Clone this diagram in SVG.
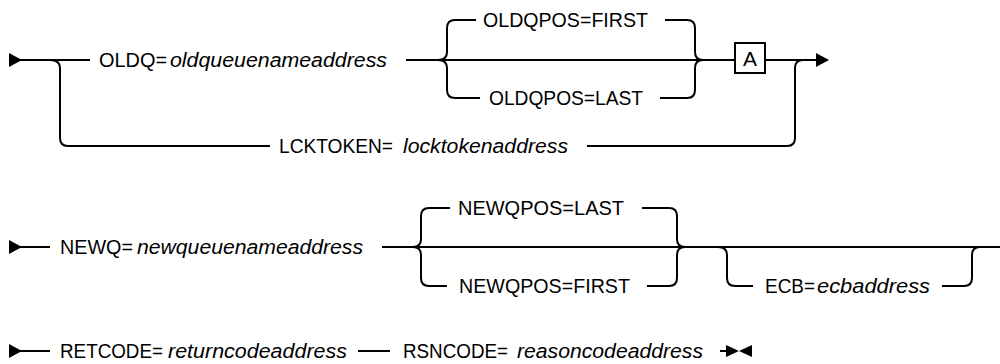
<svg xmlns="http://www.w3.org/2000/svg" width="1000" height="364" viewBox="0 0 1000 364">
<style>
.ln{fill:none;stroke:#000;stroke-width:2;stroke-linejoin:round}
.t{font-family:"Liberation Sans",Arial,sans-serif;font-size:20px;fill:#000}
.i{font-style:italic}
.ah{fill:#000}
.box{fill:#fff;stroke:#000;stroke-width:2}
</style>
<rect width="1000" height="364" fill="#fff"/>
<g id="connectors">
  <!-- row 1 -->
  <path class="ln" d="M20,60 H90"/>
  <path class="ln" d="M50,60 Q60,60 60,68 V138 Q60,146 68,146 H270"/>
  <path class="ln" d="M406,60 H735"/>
  <path class="ln" d="M438,60 Q447,60 447,52 V28 Q447,20 455,20 H476"/>
  <path class="ln" d="M438,60 Q447,60 447,68 V90 Q447,98 455,98 H480"/>
  <path class="ln" d="M665,20 H687 Q695,20 695,28 V52 Q695,60 703,60"/>
  <path class="ln" d="M660,98 H687 Q695,98 695,90 V68 Q695,60 703,60"/>
  <path class="ln" d="M765,60 H818"/>
  <path class="ln" d="M587,146 H787 Q795,146 795,138 V68 Q795,60 803,60"/>
  <polygon class="ah" points="9,53 9,67 22,60"/>
  <polygon class="ah" points="816,53 816,67 829,60"/>
  <!-- row 2 -->
  <path class="ln" d="M20,247 H50"/>
  <path class="ln" d="M382,247 H1000"/>
  <path class="ln" d="M413,247 Q421,247 421,239 V216 Q421,208 429,208 H450"/>
  <path class="ln" d="M413,247 Q421,247 421,255 V278 Q421,286 429,286 H447"/>
  <path class="ln" d="M642,208 H669 Q677,208 677,216 V239 Q677,247 685,247"/>
  <path class="ln" d="M647,286 H669 Q677,286 677,278 V255 Q677,247 685,247"/>
  <path class="ln" d="M718,247 Q727,247 727,255 V278 Q727,286 735,286 H753"/>
  <path class="ln" d="M942,286 H964 Q972,286 972,278 V255 Q972,247 980,247"/>
  <polygon class="ah" points="9,240 9,254 22,247"/>
  <!-- row 3 -->
  <path class="ln" d="M20,351 H50"/>
  <path class="ln" d="M358,351 H390"/>
  <path class="ln" d="M720,351 H730"/>
  <polygon class="ah" points="9,344 9,358 22,351"/>
  <polygon class="ah" points="726,345 726,357 739,351"/>
  <polygon class="ah" points="752,345 752,357 739,351"/>
</g>
<g id="oldq"><text class="t" x="99" y="67"><tspan textLength="68" lengthAdjust="spacingAndGlyphs">OLDQ=</tspan><tspan class="i" x="170" textLength="217" lengthAdjust="spacingAndGlyphs">oldqueuenameaddress</tspan></text></g>
<g id="oldqpos-first"><text class="t" x="483" y="27" textLength="165" lengthAdjust="spacingAndGlyphs">OLDQPOS=FIRST</text></g>
<g id="oldqpos-last"><text class="t" x="489" y="105" textLength="154" lengthAdjust="spacingAndGlyphs">OLDQPOS=LAST</text></g>
<g id="ref-a"><rect class="box" x="735" y="43" width="30" height="30"/><text class="t" x="750" y="66" text-anchor="middle" style="font-size:21px">A</text></g>
<g id="lcktoken"><text class="t" x="279" y="153"><tspan textLength="114" lengthAdjust="spacingAndGlyphs">LCKTOKEN=</tspan><tspan class="i" x="403" textLength="165" lengthAdjust="spacingAndGlyphs">locktokenaddress</tspan></text></g>
<g id="newq"><text class="t" x="60" y="254"><tspan textLength="73" lengthAdjust="spacingAndGlyphs">NEWQ=</tspan><tspan class="i" x="137" textLength="226" lengthAdjust="spacingAndGlyphs">newqueuenameaddress</tspan></text></g>
<g id="newqpos-last"><text class="t" x="458" y="215" textLength="166" lengthAdjust="spacingAndGlyphs">NEWQPOS=LAST</text></g>
<g id="newqpos-first"><text class="t" x="459" y="293" textLength="171" lengthAdjust="spacingAndGlyphs">NEWQPOS=FIRST</text></g>
<g id="ecb"><text class="t" x="765" y="293"><tspan textLength="50" lengthAdjust="spacingAndGlyphs">ECB=</tspan><tspan class="i" x="817" textLength="113" lengthAdjust="spacingAndGlyphs">ecbaddress</tspan></text></g>
<g id="retcode"><text class="t" x="60" y="358"><tspan textLength="103" lengthAdjust="spacingAndGlyphs">RETCODE=</tspan><tspan class="i" x="168" textLength="179" lengthAdjust="spacingAndGlyphs">returncodeaddress</tspan></text></g>
<g id="rsncode"><text class="t" x="403" y="358"><tspan textLength="105" lengthAdjust="spacingAndGlyphs">RSNCODE=</tspan><tspan class="i" x="517" textLength="186" lengthAdjust="spacingAndGlyphs">reasoncodeaddress</tspan></text></g>
</svg>
